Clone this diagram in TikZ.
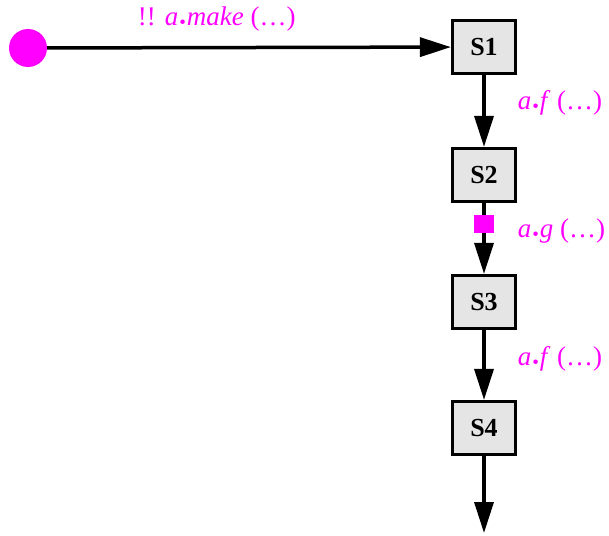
\documentclass[tikz,border=0pt]{standalone}
\usepackage{fontspec}
\setmainfont{Liberation Serif}
\usetikzlibrary{arrows.meta}

\definecolor{hotpink}{RGB}{255,0,255}
\newcommand{\callof}[1]{\textit{a}\kern1pt\raisebox{-3pt}{\scalebox{.7}{•}}\kern1pt\textit{#1}~(\ldots)}

\tikzset{
  state/.style={draw, line width=3.2pt, fill=black!10, minimum width=63pt,
    minimum height=53pt, inner sep=0pt, font=\fontsize{26}{28}\selectfont\bfseries},
  flow/.style={line width=3.5pt, -{Triangle[length=31pt,width=19pt]}},
  call/.style={text=hotpink, inner sep=0pt, font=\fontsize{27}{30}\selectfont},
  hook/.style={fill=hotpink, minimum width=20pt, minimum height=18pt, inner sep=0pt},
}

\begin{document}
\begin{tikzpicture}[x=1pt,y=-1pt]
  \useasboundingbox (0,0) rectangle (609,535);
  \node[circle, fill=hotpink, minimum size=38pt, inner sep=0pt] (start) at (28,48) {};
  \node[state] (s1) at (484,47) {S1};
  \node[state] (s2) at (484,175) {S2};
  \node[state] (s3) at (484,302) {S3};
  \node[state] (s4) at (484,428) {S4};
  \coordinate (exit) at (484,533);

  \draw[flow] (start) -- node[pos=0.42, call, above=15pt] {!! \callof{make}} (s1);
  \draw[flow] (s1) -- node[midway, call, right=32pt, yshift=8pt] {\callof{f}} (s2);
  \draw[flow] (s2) -- node[pos=0.29, hook] (hk) {}
    node[midway, call, right=32pt, yshift=7pt] {\callof{g}} (s3);
  \draw[flow] (s3) -- node[midway, call, right=32pt, yshift=6pt] {\callof{f}} (s4);
  \draw[flow] (s4) -- (exit);
\end{tikzpicture}
\end{document}
